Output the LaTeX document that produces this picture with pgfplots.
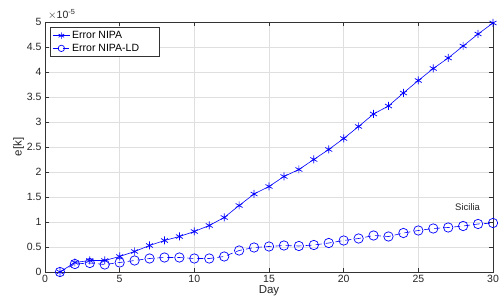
\documentclass[border=0pt]{standalone}
\usepackage{pgfplots}
\pgfplotsset{compat=1.18}
\usepackage{fontspec}
\setmainfont{Liberation Sans}
\begin{document}
\begin{tikzpicture}[x=1pt,y=1pt]
\path[use as bounding box] (-45,-35) rectangle (457,272);
\begin{axis}[
  scale only axis,
  width=448pt, height=250pt,
  at={(0,0)}, anchor=south west,
  xmin=0, xmax=30, ymin=0, ymax=5,
  xtick={0,5,...,30},
  ytick={0,0.5,...,5},
  yticklabels={0,0.5,1,1.5,2,2.5,3,3.5,4,4.5,5},
  grid=major,
  grid style={gray!25, line width=0.6pt},
  tick align=inside,
  major tick length=4pt,
  axis line style={black!80, line width=0.6pt},
  tick style={black!80, line width=0.6pt},
  ticklabel style={font=\fontsize{10.5}{12}\selectfont, text=black!85},
  /pgf/number format/assume math mode=true,
  xlabel={Day}, ylabel={e[k]},
  label style={font=\fontsize{11.5}{13}\selectfont, text=black!85},
  xlabel style={yshift=4pt},
  ylabel style={yshift=-4pt},
  legend style={at={(axis cs:0.35,4.9)}, anchor=north west, font=\fontsize{10.5}{12}\selectfont,
    draw=black!80, line width=0.6pt, inner sep=2pt, row sep=0pt, cells={anchor=west}},
  legend cell align=left,
  legend image code/.code={\draw[mark repeat=2,mark phase=2,#1,mark size=3.2pt] plot coordinates {(0cm,0cm)(0.3cm,0cm)(0.6cm,0cm)};},
  clip=false,
]
\addplot[blue, line width=0.6pt, mark=asterisk, mark size=4pt, mark options={line width=0.7pt}] coordinates {
(1,0) (2,0.19) (3,0.23) (4,0.23) (5,0.31) (6,0.41) (7,0.53) (8,0.63) (9,0.71) (10,0.81)
(11,0.93) (12,1.09) (13,1.33) (14,1.56) (15,1.71) (16,1.91) (17,2.05) (18,2.25) (19,2.45) (20,2.67)
(21,2.91) (22,3.16) (23,3.32) (24,3.58) (25,3.83) (26,4.07) (27,4.28) (28,4.52) (29,4.76) (30,4.98)
};
\addlegendentry{Error NIPA}
\addplot[blue, line width=0.6pt, dash pattern=on 6pt off 4pt, mark=o, mark size=4.7pt, mark options={solid, line width=0.7pt}] coordinates {
(1,0) (2,0.16) (3,0.18) (4,0.15) (5,0.19) (6,0.23) (7,0.27) (8,0.29) (9,0.29) (10,0.27)
(11,0.27) (12,0.31) (13,0.43) (14,0.49) (15,0.51) (16,0.53) (17,0.52) (18,0.54) (19,0.58) (20,0.63)
(21,0.67) (22,0.73) (23,0.71) (24,0.78) (25,0.83) (26,0.87) (27,0.89) (28,0.92) (29,0.96) (30,0.98)
};
\addlegendentry{Error NIPA-LD\rule{16pt}{0pt}}
\node[font=\fontsize{9.5}{11}\selectfont, text=black!85] at (axis cs:28.3,1.30) {Sicilia};
\node[font=\fontsize{10.5}{12}\selectfont, text=black!85, anchor=south west, inner sep=0pt] at (axis cs:0.2,5.05) {$\times$10\textsuperscript{-5}};
\end{axis}
\end{tikzpicture}
\end{document}
